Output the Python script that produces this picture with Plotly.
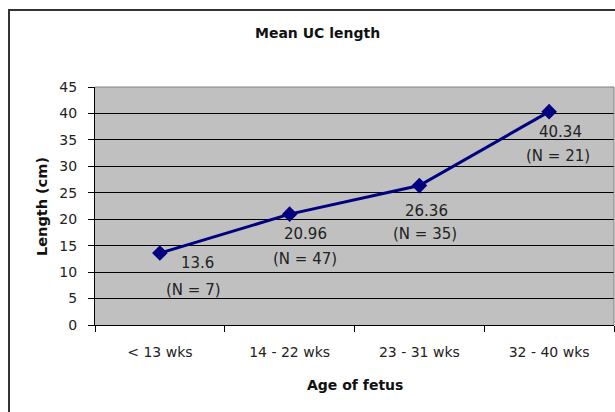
import plotly.graph_objects as go

categories = ["< 13 wks", "14 - 22 wks", "23 - 31 wks", "32 - 40 wks"]
mean_length = [13.6, 20.96, 26.36, 40.34]
n_counts = [7, 47, 35, 21]

# label offsets (pixels) for value and N lines, per point
val_dx = [38, 16, 7, 11]
val_dy = [10, 20, 25, 20]
n_dx = [34, 15, 6, 9]
n_dy = [37, 45, 48, 44]

FONT = "DejaVu Sans, Verdana, sans-serif"

W, H = 615, 412
L, R, T, B = 95, 1, 87, 412 - 325
pw, ph = W - L - R, H - T - B


def px_x(x):
    return (x - L) / pw


def px_y(y):
    return 1 - (y - T) / ph


fig = go.Figure()
fig.add_trace(go.Scatter(
    x=categories, y=mean_length, mode="lines+markers",
    line=dict(color="#000080", width=3),
    marker=dict(symbol="diamond", size=12, color="#000080"),
    showlegend=False, hoverinfo="skip",
))

annotations = []
for c, m, n, vx, vy, nx, ny in zip(categories, mean_length, n_counts, val_dx, val_dy, n_dx, n_dy):
    annotations.append(dict(x=c, y=m, xref="x", yref="y", text=f"{m}", showarrow=False,
                            xshift=vx, yshift=-vy, xanchor="center", yanchor="middle",
                            font=dict(family=FONT, size=15, color="#222")))
    annotations.append(dict(x=c, y=m, xref="x", yref="y", text=f"(N = {n})", showarrow=False,
                            xshift=nx, yshift=-ny, xanchor="center", yanchor="middle",
                            font=dict(family=FONT, size=15, color="#222")))

annotations.append(dict(x=px_x(317), y=px_y(33), xref="paper", yref="paper", text="<b>Mean UC length</b>",
                        showarrow=False, xanchor="center", yanchor="middle",
                        font=dict(family=FONT, size=14, color="#111")))
annotations.append(dict(x=px_x(355), y=px_y(385), xref="paper", yref="paper", text="<b>Age of fetus</b>",
                        showarrow=False, xanchor="center", yanchor="middle",
                        font=dict(family=FONT, size=14, color="#111")))
annotations.append(dict(x=px_x(42), y=px_y(207), xref="paper", yref="paper", text="<b>Length (cm)</b>",
                        showarrow=False, xanchor="center", yanchor="middle", textangle=-90,
                        font=dict(family=FONT, size=14.5, color="#111")))

shapes = [
    dict(type="rect", xref="paper", yref="paper",
         x0=px_x(9), x1=px_x(640), y0=px_y(10), y1=px_y(440),
         line=dict(color="#333", width=2), fillcolor="rgba(0,0,0,0)", layer="below"),
    dict(type="line", xref="paper", yref="paper", x0=0, x1=1, y0=1, y1=1,
         line=dict(color="#808080", width=1)),
    dict(type="line", xref="paper", yref="paper", x0=1, x1=1, y0=0, y1=1,
         line=dict(color="#808080", width=1)),
]

fig.update_layout(
    width=W, height=H,
    margin=dict(l=L, r=R, t=T, b=B),
    paper_bgcolor="white", plot_bgcolor="#C0C0C0",
    annotations=annotations, shapes=shapes,
    xaxis=dict(type="category", range=[-0.5, 3.5], tickson="boundaries", ticks="outside",
               ticklen=6, tickcolor="black", showline=True, linecolor="black", linewidth=1,
               showgrid=False, zeroline=False, ticklabelstandoff=14,
               tickfont=dict(family=FONT, size=14, color="#222")),
    yaxis=dict(range=[0, 45], tickvals=[0, 5, 10, 15, 20, 25, 30, 35, 40, 45], ticks="outside",
               ticklen=6, tickcolor="black", showline=True, linecolor="black", linewidth=1,
               showgrid=True, gridcolor="black", gridwidth=1, zeroline=False, ticklabelstandoff=8,
               tickfont=dict(family=FONT, size=14, color="#222")),
)

fig.write_html("out.html", config={"displayModeBar": False},
               post_script="document.body.style.margin='0';document.body.style.overflow='hidden';")
